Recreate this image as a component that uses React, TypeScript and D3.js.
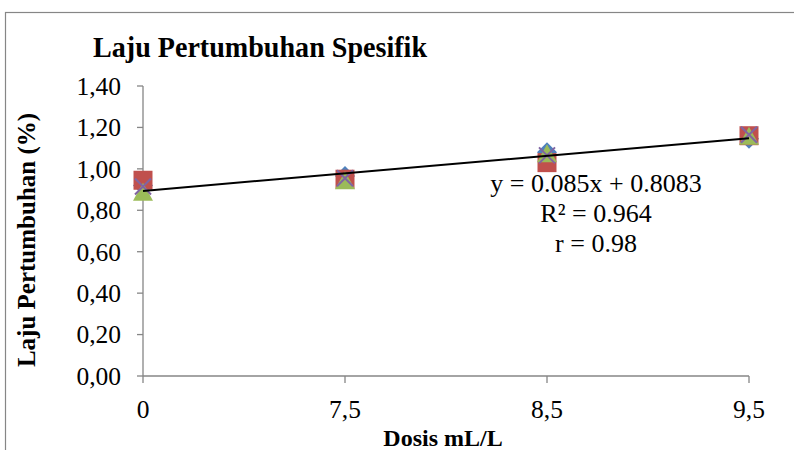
import { useMemo } from 'react'
import * as d3 from 'd3'

const categories = ['0', '7,5', '8,5', '9,5']
const seriesDiamond = [0.92, 0.965, 1.08, 1.145]
const seriesSquare = [0.945, 0.95, 1.03, 1.16]
const seriesTriangle = [0.885, 0.94, 1.07, 1.155]
const seriesCross = [0.915, 0.955, 1.065, 1.165]
const yTicks = [0, 0.2, 0.4, 0.6, 0.8, 1.0, 1.2, 1.4]
const trendSlope = 0.085
const trendIntercept = 0.8083
const trendLabels = ['y = 0.085x + 0.8083', 'R² = 0.964', 'r = 0.98']

const WIDTH = 794
const HEIGHT = 450
const PLOT_LEFT = 143
const PLOT_RIGHT = 749
const PLOT_TOP = 86
const PLOT_BOTTOM = 376
const AXIS_COLOR = '#868686'
const FONT = "'Times New Roman', 'Liberation Serif', serif"

type Shape = 'diamond' | 'square' | 'triangle' | 'cross'

function markerPath(shape: Shape, r: number) {
  const p = d3.path()
  if (shape === 'square') {
    p.rect(-r, -r, 2 * r, 2 * r)
  } else if (shape === 'diamond') {
    p.moveTo(0, -r)
    p.lineTo(r, 0)
    p.lineTo(0, r)
    p.lineTo(-r, 0)
    p.closePath()
  } else if (shape === 'triangle') {
    p.moveTo(0, -r)
    p.lineTo(r, r * 0.8)
    p.lineTo(-r, r * 0.8)
    p.closePath()
  } else {
    p.moveTo(-r, -r)
    p.lineTo(r, r)
    p.moveTo(r, -r)
    p.lineTo(-r, r)
  }
  return p.toString()
}

const series: { values: number[]; shape: Shape; color: string; r: number }[] = [
  { values: seriesDiamond, shape: 'diamond', color: '#4F81BD', r: 10 },
  { values: seriesSquare, shape: 'square', color: '#C0504D', r: 9.5 },
  { values: seriesTriangle, shape: 'triangle', color: '#9BBB59', r: 10 },
  { values: seriesCross, shape: 'cross', color: '#8064A2', r: 8 },
]

export default function App() {
  const x = useMemo(
    () => d3.scaleLinear().domain([1, categories.length]).range([PLOT_LEFT, PLOT_RIGHT]),
    []
  )
  const y = useMemo(
    () => d3.scaleLinear().domain([0, 1.4]).range([PLOT_BOTTOM, PLOT_TOP]),
    []
  )

  const trend = d3
    .line<number>()
    .x((i) => x(i))
    .y((i) => y(trendSlope * i + trendIntercept))

  const fmt = (v: number) => v.toFixed(2).replace('.', ',')

  return (
    <svg
      width={WIDTH}
      height={HEIGHT}
      style={{ position: 'absolute', left: 0, top: 0, background: '#fff', fontFamily: FONT }}
    >
      <rect x={5.5} y={12.5} width={WIDTH} height={HEIGHT} fill="#fff" stroke={AXIS_COLOR} strokeWidth={1.2} />

      <text x={93} y={57} fontSize={29} fontWeight="bold" fill="#000" textLength={334} lengthAdjust="spacingAndGlyphs">
        Laju Pertumbuhan Spesifik
      </text>

      {/* y axis */}
      <line x1={PLOT_LEFT} x2={PLOT_LEFT} y1={y(1.4)} y2={PLOT_BOTTOM} stroke={AXIS_COLOR} strokeWidth={1.3} />
      {yTicks.map((t) => (
        <g key={t}>
          <line x1={PLOT_LEFT - 6} x2={PLOT_LEFT} y1={y(t)} y2={y(t)} stroke={AXIS_COLOR} strokeWidth={1.3} />
          <text x={121} y={y(t)} dy="0.35em" textAnchor="end" fontSize={25.5} fill="#000">
            {fmt(t)}
          </text>
        </g>
      ))}

      {/* x axis */}
      <line x1={PLOT_LEFT} x2={PLOT_RIGHT} y1={PLOT_BOTTOM} y2={PLOT_BOTTOM} stroke={AXIS_COLOR} strokeWidth={1.3} />
      {categories.map((c, i) => (
        <g key={c}>
          <line x1={x(i + 1)} x2={x(i + 1)} y1={PLOT_BOTTOM} y2={PLOT_BOTTOM + 7} stroke={AXIS_COLOR} strokeWidth={1.3} />
          <text x={x(i + 1)} y={418} textAnchor="middle" fontSize={25.5} fill="#000">
            {c}
          </text>
        </g>
      ))}

      {/* markers */}
      {series.map((s, si) => (
        <g key={si}>
          {s.values.map((v, i) => (
            <path
              key={i}
              transform={`translate(${x(i + 1)},${y(v)})`}
              d={markerPath(s.shape, s.r)}
              fill={s.shape === 'cross' ? 'none' : s.color}
              stroke={s.shape === 'cross' ? s.color : 'none'}
              strokeWidth={s.shape === 'cross' ? 2 : 0}
            />
          ))}
        </g>
      ))}

      {/* trendline */}
      <path d={trend([1, categories.length]) ?? ''} fill="none" stroke="#000" strokeWidth={2} />

      {trendLabels.map((t, i) => (
        <text key={t} x={596} y={192 + i * 30} textAnchor="middle" fontSize={26} fill="#000">
          {t}
        </text>
      ))}

      <text
        transform={`translate(35,${(PLOT_TOP + PLOT_BOTTOM) / 2 + 9}) rotate(-90)`}
        textAnchor="middle"
        fontSize={25}
        fontWeight="bold"
        fill="#000"
      >
        Laju Pertumbuhan (%)
      </text>
      <text x={443} y={446} textAnchor="middle" fontSize={24} fontWeight="bold" fill="#000">
        Dosis mL/L
      </text>
    </svg>
  )
}
